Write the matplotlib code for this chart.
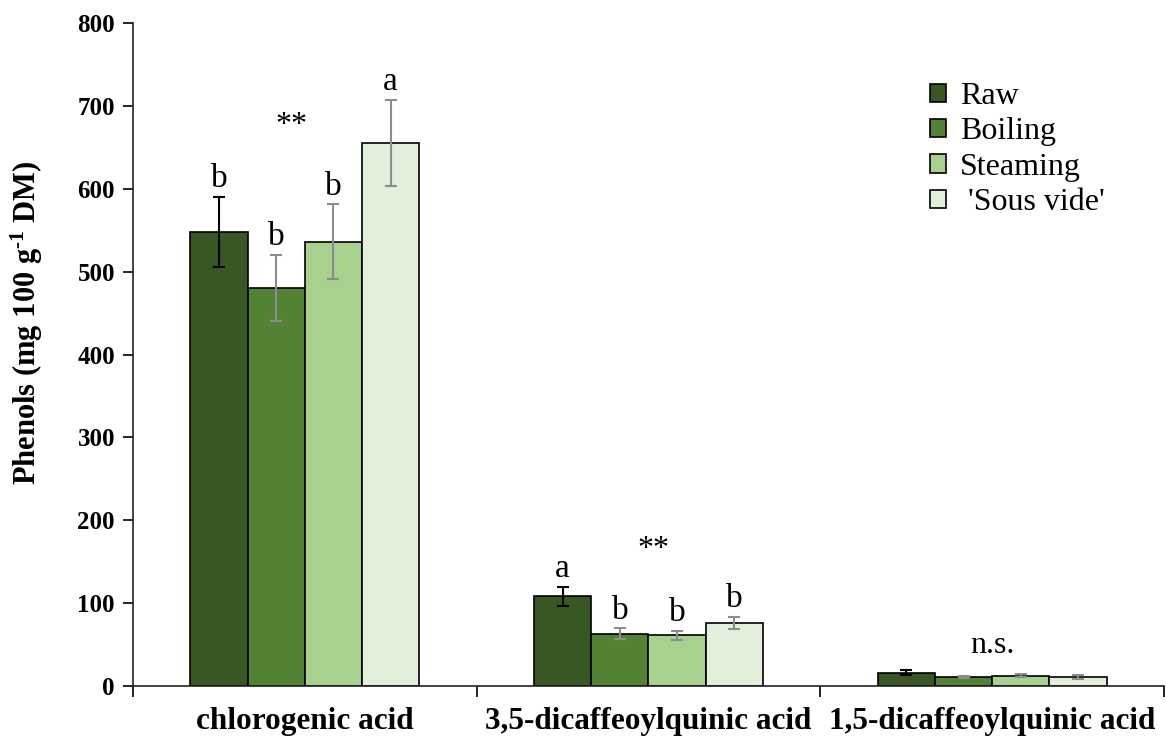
import numpy as np
import matplotlib
matplotlib.use("Agg")
import matplotlib.pyplot as plt
from matplotlib.ticker import FixedLocator, NullFormatter

# Phenolic compounds by cooking treatment
compounds = ["chlorogenic acid", "3,5-dicaffeoylquinic acid", "1,5-dicaffeoylquinic acid"]
treatments = ["Raw", "Boiling", "Steaming", " 'Sous vide'"]

raw = [548, 108, 16]
boiling = [480, 63, 11]
steaming = [536, 61, 12.5]
sous_vide = [655, 76, 10.5]

raw_err = [42, 12, 3]
boiling_err = [40, 6.5, 1.5]
steaming_err = [45, 5.5, 1.5]
sous_vide_err = [52, 7.5, 2.5]

# Letters from the post-hoc test (per compound, per treatment)
raw_letters = ["b", "a", ""]
boiling_letters = ["b", "b", ""]
steaming_letters = ["b", "b", ""]
sous_vide_letters = ["a", "b", ""]

significance = ["**", "**", "n.s."]

colors = ["#385723", "#548235", "#A9D18E", "#E2EFDA"]
err_colors = ["black", "#8c8c8c", "#8c8c8c", "#8c8c8c"]

plt.rcParams["font.family"] = ["Liberation Serif", "DejaVu Serif"]
plt.rcParams["mathtext.fontset"] = "custom"
plt.rcParams["mathtext.rm"] = "Liberation Serif:bold"
plt.rcParams["mathtext.bf"] = "Liberation Serif:bold"
plt.rcParams["mathtext.it"] = "Liberation Serif:bold"

fig = plt.figure(figsize=(11.66, 7.40), dpi=100)
ax = fig.add_axes([133 / 1166, 1 - 686 / 740, 1031 / 1166, 663 / 740])

x = np.arange(len(compounds))
width = 1 / 6
series = [raw, boiling, steaming, sous_vide]
errors = [raw_err, boiling_err, steaming_err, sous_vide_err]
letters = [raw_letters, boiling_letters, steaming_letters, sous_vide_letters]

for i, (vals, errs, lets) in enumerate(zip(series, errors, letters)):
    pos = x + (i - 1.5) * width
    ax.bar(pos, vals, width=width, color=colors[i], edgecolor="black",
           linewidth=1.2, label=treatments[i], zorder=2)
    ax.errorbar(pos, vals, yerr=errs, fmt="none", ecolor=err_colors[i],
                elinewidth=1.5, capsize=4.5, capthick=1.5, zorder=3)
    for p, v, e, t in zip(pos, vals, errs, lets):
        if t:
            ax.annotate(t, (p, v + e), xytext=(0, 2), textcoords="offset points",
                        ha="center", va="bottom", fontsize=24)

sig_x = [-0.04, 1.015, 2.0]
sig_y = [676, 165, 49]
for sx, sy, s in zip(sig_x, sig_y, significance):
    ax.text(sx, sy, s, ha="center", va="center", fontsize=23)

ax.set_xlim(-0.5, 2.5)
ax.set_ylim(0, 800)
ax.set_yticks(np.arange(0, 801, 100))
ax.tick_params(axis="y", direction="out", length=7, width=1.2, labelsize=18, pad=6)
for lab in ax.get_yticklabels():
    lab.set_fontweight("bold")

ax.set_xticks(x)
ax.set_xticklabels(compounds, fontsize=22.5, fontweight="bold")
ax.tick_params(axis="x", which="major", length=0, pad=15)
ax.xaxis.set_minor_locator(FixedLocator([-0.5, 0.5, 1.5, 2.5]))
ax.xaxis.set_minor_formatter(NullFormatter())
ax.tick_params(axis="x", which="minor", direction="out", length=8, width=1.2)

for side in ["top", "right"]:
    ax.spines[side].set_visible(False)
for side in ["left", "bottom"]:
    ax.spines[side].set_linewidth(1.2)
    ax.spines[side].set_color("#222222")

ax.set_ylabel("Phenols (mg 100 g$^{\\text{-1}}$ DM)", fontsize=22, fontweight="bold")
ax.yaxis.set_label_coords(-0.085, 0.548)

leg = ax.legend(loc="upper left", bbox_to_anchor=(781 / 1031, 1 - 43 / 663),
                frameon=False, fontsize=23, handlelength=0.5, handleheight=0.5,
                handletextpad=0.45, labelspacing=0.2, borderpad=0)

fig.savefig("out.png", dpi=100)
